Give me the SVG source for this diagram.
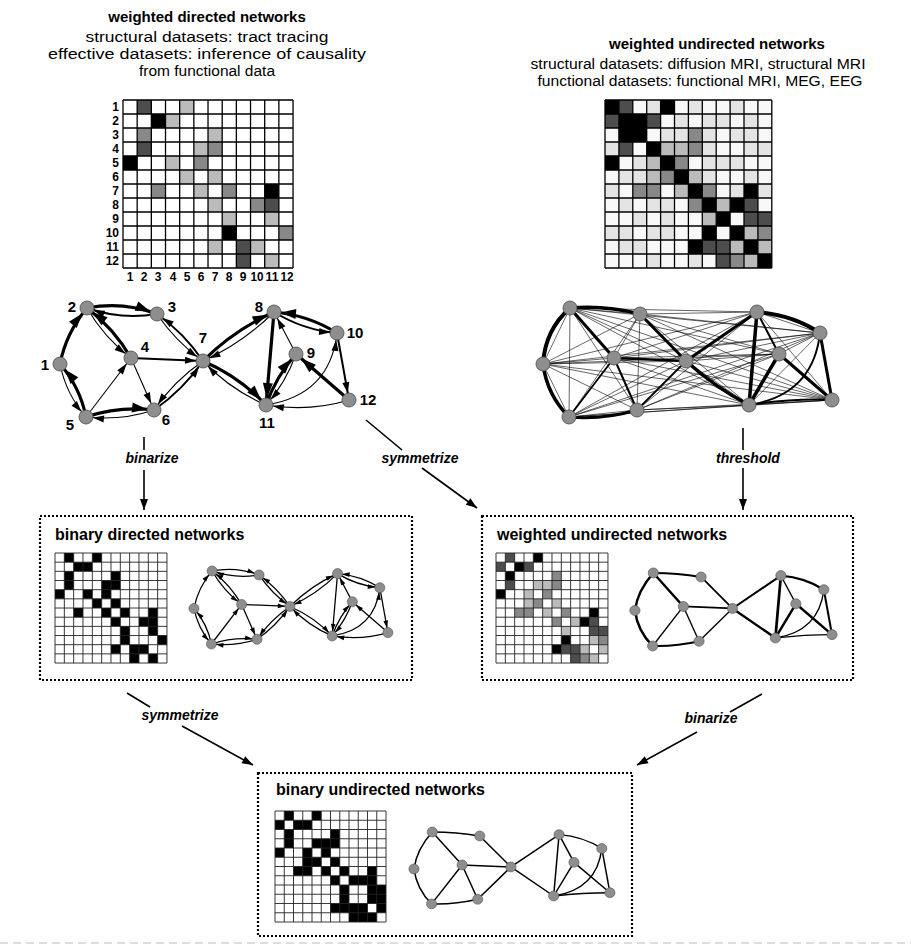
<svg xmlns="http://www.w3.org/2000/svg" xmlns:xlink="http://www.w3.org/1999/xlink" width="911" height="945" viewBox="0 0 911 945">
<style>
text{font-family:"Liberation Sans",Arial,sans-serif;fill:#000}
.ttl{font-size:15px;font-weight:bold}
.sub{font-size:14px}
.bt{font-size:16px;font-weight:bold}
.lab{font-size:14px;font-weight:bold;font-style:italic}
.num{font-size:12px;font-weight:bold}
.nl{font-size:15px;font-weight:bold}
.k0{fill:#000}.k1{fill:#4d4d4d}.k2{fill:#888}.k3{fill:#bbb}.k4{fill:#e4e4e4}
.grid{fill:none;stroke:#000;stroke-width:1.3}
.gridS{fill:none;stroke:#222;stroke-width:0.9}
.e{fill:none;stroke:#000}
.node{fill:#8e8e8e;stroke:#555;stroke-width:0.9}
.box{fill:none;stroke:#000;stroke-width:2.2;stroke-dasharray:2,2}
.arr{stroke:#000;stroke-width:1.6;fill:none}
</style>
<defs>
<marker id="aB" markerUnits="userSpaceOnUse" markerWidth="15" markerHeight="10" refX="22" refY="5" orient="auto" overflow="visible"><path d="M0,0 L15,5 L0,10 z"/></marker>
<marker id="aS" markerUnits="userSpaceOnUse" markerWidth="11" markerHeight="7" refX="18" refY="3.5" orient="auto" overflow="visible"><path d="M0,0 L11,3.5 L0,7 z"/></marker>
<marker id="ah" markerUnits="userSpaceOnUse" markerWidth="11" markerHeight="8" refX="11" refY="4" orient="auto" overflow="visible"><path d="M0,0 L11,4 L0,8 z"/></marker>
<path id="gridp" vector-effect="non-scaling-stroke" d="M0,0V12M1,0V12M2,0V12M3,0V12M4,0V12M5,0V12M6,0V12M7,0V12M8,0V12M9,0V12M10,0V12M11,0V12M12,0V12M0,0H12M0,1H12M0,2H12M0,3H12M0,4H12M0,5H12M0,6H12M0,7H12M0,8H12M0,9H12M0,10H12M0,11H12M0,12H12"/>
<g id="nodes">
<circle cx="60" cy="364" r="7"/><circle cx="87" cy="308" r="7"/><circle cx="157" cy="314" r="7"/><circle cx="131" cy="358" r="7"/><circle cx="86" cy="417" r="7"/><circle cx="154" cy="410" r="7"/><circle cx="203" cy="361" r="7"/><circle cx="274" cy="312" r="7"/><circle cx="296" cy="354" r="7"/><circle cx="337" cy="333" r="7"/><circle cx="266" cy="405" r="7"/><circle cx="349" cy="400" r="7"/>
</g>
<g id="nodesL">
<circle cx="60" cy="364" r="7.5"/><circle cx="87" cy="308" r="7.5"/><circle cx="157" cy="314" r="7.5"/><circle cx="131" cy="358" r="7.5"/><circle cx="86" cy="417" r="7.5"/><circle cx="154" cy="410" r="7.5"/><circle cx="203" cy="361" r="7.5"/><circle cx="274" cy="312" r="7.5"/><circle cx="296" cy="354" r="7.5"/><circle cx="337" cy="333" r="7.5"/><circle cx="266" cy="405" r="7.5"/><circle cx="349" cy="400" r="7.5"/>
</g>
</defs>
<rect width="911" height="945" fill="#fff"/>

<!-- headings -->
<g id="head-left">
<text class="ttl" x="207" y="22" text-anchor="middle">weighted directed networks</text>
<text class="sub" x="207" y="42" text-anchor="middle" textLength="243" lengthAdjust="spacingAndGlyphs">structural datasets: tract tracing</text>
<text class="sub" x="207" y="59" text-anchor="middle" textLength="318" lengthAdjust="spacingAndGlyphs">effective datasets: inference of causality</text>
<text class="sub" x="207" y="76" text-anchor="middle" textLength="136" lengthAdjust="spacingAndGlyphs">from functional data</text>
</g>
<g id="head-right">
<text class="ttl" x="717" y="49" text-anchor="middle">weighted undirected networks</text>
<text class="sub" x="698" y="69" text-anchor="middle" textLength="335" lengthAdjust="spacingAndGlyphs">structural datasets: diffusion MRI, structural MRI</text>
<text class="sub" x="700" y="86" text-anchor="middle" textLength="325" lengthAdjust="spacingAndGlyphs">functional datasets: functional MRI, MEG, EEG</text>
</g>

<!-- top-left matrix -->
<g id="matrix-wd">
<g transform="translate(123,100) scale(14.17,14)">
<rect width="12" height="12" fill="#fff"/>
<path class="k0" d="M2,1h1v1h-1zM0,4h1v1h-1zM10,6h1v1h-1zM7,9h1v1h-1z"/>
<path class="k1" d="M1,0h1v1h-1zM1,3h1v1h-1zM10,7h1v1h-1zM8,10h1v1h-1zM8,11h1v1h-1z"/>
<path class="k2" d="M1,2h1v1h-1zM6,3h1v1h-1zM5,4h1v1h-1zM2,6h1v1h-1zM7,6h1v1h-1zM9,7h1v1h-1zM11,9h1v1h-1z"/>
<path class="k3" d="M4,0h1v1h-1zM3,1h1v1h-1zM6,2h1v1h-1zM5,3h1v1h-1zM3,4h1v1h-1zM4,5h1v1h-1zM6,5h1v1h-1zM5,6h1v1h-1zM6,7h1v1h-1zM7,8h1v1h-1zM10,8h1v1h-1zM6,10h1v1h-1zM9,10h1v1h-1zM10,11h1v1h-1z"/>
<use xlink:href="#gridp" class="grid"/>
</g>
<g class="num" text-anchor="end">
<text x="119" y="111">1</text><text x="119" y="125">2</text><text x="119" y="139">3</text><text x="119" y="153">4</text><text x="119" y="167">5</text><text x="119" y="181">6</text><text x="119" y="195">7</text><text x="119" y="209">8</text><text x="119" y="223">9</text><text x="119" y="237">10</text><text x="119" y="251">11</text><text x="119" y="265">12</text>
</g>
<g class="num" text-anchor="middle">
<text x="130" y="281">1</text><text x="144" y="281">2</text><text x="158" y="281">3</text><text x="173" y="281">4</text><text x="187" y="281">5</text><text x="201" y="281">6</text><text x="215" y="281">7</text><text x="229" y="281">8</text><text x="243" y="281">9</text><text x="257" y="281" textLength="13" lengthAdjust="spacingAndGlyphs">10</text><text x="272" y="281" textLength="13" lengthAdjust="spacingAndGlyphs">11</text><text x="287" y="281" textLength="13" lengthAdjust="spacingAndGlyphs">12</text>
</g>
</g>

<!-- top-right matrix -->
<g id="matrix-wu" transform="translate(605,100) scale(13.9,14)">
<rect width="12" height="12" fill="#f8f8f8"/>
<path class="k0" d="M0,0h1v1h-1zM4,0h1v1h-1zM1,1h1v1h-1zM2,1h1v1h-1zM1,2h1v1h-1zM2,2h1v1h-1zM3,3h1v1h-1zM0,4h1v1h-1zM4,4h1v1h-1zM5,5h1v1h-1zM6,6h1v1h-1zM10,6h1v1h-1zM7,7h1v1h-1zM9,7h1v1h-1zM8,8h1v1h-1zM7,9h1v1h-1zM9,9h1v1h-1zM6,10h1v1h-1zM10,10h1v1h-1zM11,11h1v1h-1z"/>
<path class="k1" d="M1,0h1v1h-1zM0,1h1v1h-1zM3,1h1v1h-1zM1,3h1v1h-1zM10,7h1v1h-1zM10,8h1v1h-1zM11,8h1v1h-1zM7,10h1v1h-1zM8,10h1v1h-1zM8,11h1v1h-1z"/>
<path class="k2" d="M6,2h1v1h-1zM6,3h1v1h-1zM5,4h1v1h-1zM4,5h1v1h-1zM2,6h1v1h-1zM3,6h1v1h-1zM7,6h1v1h-1zM6,7h1v1h-1zM11,9h1v1h-1zM9,11h1v1h-1z"/>
<path class="k3" d="M4,3h1v1h-1zM5,3h1v1h-1zM3,4h1v1h-1zM3,5h1v1h-1zM6,5h1v1h-1zM5,6h1v1h-1zM8,7h1v1h-1zM7,8h1v1h-1zM10,9h1v1h-1zM9,10h1v1h-1zM11,10h1v1h-1zM10,11h1v1h-1z"/>
<path class="k4" d="M3,0h1v1h-1zM6,0h1v1h-1zM9,0h1v1h-1zM5,1h1v1h-1zM7,1h1v1h-1zM8,1h1v1h-1zM10,1h1v1h-1zM4,2h1v1h-1zM5,2h1v1h-1zM7,2h1v1h-1zM9,2h1v1h-1zM10,2h1v1h-1zM0,3h1v1h-1zM7,3h1v1h-1zM10,3h1v1h-1zM11,3h1v1h-1zM2,4h1v1h-1zM7,4h1v1h-1zM8,4h1v1h-1zM9,4h1v1h-1zM1,5h1v1h-1zM2,5h1v1h-1zM7,5h1v1h-1zM10,5h1v1h-1zM0,6h1v1h-1zM9,6h1v1h-1zM11,6h1v1h-1zM1,7h1v1h-1zM3,7h1v1h-1zM4,7h1v1h-1zM2,8h1v1h-1zM4,8h1v1h-1zM0,9h1v1h-1zM1,9h1v1h-1zM3,9h1v1h-1zM4,9h1v1h-1zM1,10h1v1h-1zM2,10h1v1h-1zM3,11h1v1h-1zM6,11h1v1h-1z"/>
<use xlink:href="#gridp" class="grid"/>
</g>

<!-- top-left directed network -->
<g id="net-wd">
<g class="e" stroke-width="3.2" marker-end="url(#aB)">
<path d="M60,364 Q66,333 87,308"/><path d="M86,417 Q80,387 60,364"/><path d="M87,308 Q123,301 157,314"/><path d="M131,358 Q114,328.5 87,308"/><path d="M86,417 Q119,406 154,410"/><path d="M203,361 Q234,330 274,312"/><path d="M203,361 Q239,376.5 266,405"/><path d="M274,312 L266,405"/><path d="M337,333 Q308,315 274,312"/><path d="M266,405 Q276,376.5 296,354"/><path d="M349,400 L296,354"/>
</g>
<g class="e" stroke-width="2" marker-end="url(#aS)">
<path d="M157,314 Q121,320 87,308"/><path d="M131,358 L203,361"/><path d="M203,361 Q184,333 157,314"/><path d="M154,410 Q183,390 203,361"/><path d="M274,312 Q303,330 337,333"/><path d="M337,333 L349,400"/>
</g>
<g class="e" stroke-width="1.1" marker-end="url(#aS)">
<path d="M60,364 Q66,394 86,417"/><path d="M87,308 Q104,337.5 131,358"/><path d="M86,417 L131,358"/><path d="M131,358 L154,410"/><path d="M154,410 Q121,421 86,417"/><path d="M157,314 Q176,342 203,361"/><path d="M203,361 Q174,381 154,410"/><path d="M274,312 Q243,343 203,361"/><path d="M266,405 Q230,389.5 203,361"/><path d="M296,354 L274,312"/><path d="M296,354 Q286,382.5 266,405"/><path d="M349,400 Q310,412 266,405"/><path d="M266,405 Q330,395 337,333"/>
</g>
<use xlink:href="#nodes" class="node"/>
<g class="nl" text-anchor="middle">
<text x="45" y="370">1</text><text x="72" y="312">2</text><text x="172" y="312">3</text><text x="145" y="352">4</text><text x="70" y="430">5</text><text x="166" y="425">6</text><text x="203" y="343">7</text><text x="259" y="312">8</text><text x="311" y="358">9</text><text x="355" y="338">10</text><text x="267" y="428">11</text><text x="368" y="405">12</text>
</g>
</g>

<!-- top-right undirected network -->
<g id="net-wu" transform="translate(483,0)">
<path class="e" stroke-width="0.6" d="M60,364L87,308M60,364L157,314M60,364L131,358M60,364L86,417M60,364L154,410M60,364L203,361M60,364L274,312M60,364L296,354M60,364L337,333M60,364L266,405M60,364L349,400M87,308L157,314M87,308L131,358M87,308L86,417M87,308L154,410M87,308L203,361M87,308L274,312M87,308L296,354M87,308L337,333M87,308L266,405M87,308L349,400M157,314L131,358M157,314L86,417M157,314L154,410M157,314L203,361M157,314L274,312M157,314L296,354M157,314L337,333M157,314L266,405M157,314L349,400M131,358L86,417M131,358L154,410M131,358L203,361M131,358L274,312M131,358L296,354M131,358L337,333M131,358L266,405M131,358L349,400M86,417L154,410M86,417L203,361M86,417L274,312M86,417L296,354M86,417L337,333M86,417L266,405M86,417L349,400M154,410L203,361M154,410L274,312M154,410L296,354M154,410L337,333M154,410L266,405M154,410L349,400M203,361L274,312M203,361L296,354M203,361L337,333M203,361L266,405M203,361L349,400M274,312L296,354M274,312L337,333M274,312L266,405M274,312L349,400M296,354L337,333M296,354L266,405M296,354L349,400M337,333L266,405M337,333L349,400M266,405L349,400"/>
<g class="e">
<path stroke-width="4" d="M60,364 Q62,330 87,308"/><path stroke-width="3.5" d="M60,364 Q64,395 86,417"/><path stroke-width="3.5" d="M87,308 Q122,305 157,314"/><path stroke-width="3" d="M86,417 Q120,420 154,410"/><path stroke-width="3" d="M87,308 L131,358"/><path stroke-width="3" d="M157,314 L203,361"/><path stroke-width="2.5" d="M131,358 L203,361"/><path stroke-width="1.8" d="M131,358 L86,417"/><path stroke-width="2" d="M131,358 L154,410"/><path stroke-width="1.8" d="M154,410 L203,361"/><path stroke-width="3" d="M203,361 L274,312"/><path stroke-width="3.5" d="M203,361 Q233,388 266,405"/><path stroke-width="3.5" d="M274,312 L266,405"/><path stroke-width="4" d="M274,312 Q310,315 337,333"/><path stroke-width="3" d="M337,333 L349,400"/><path stroke-width="3.5" d="M296,354 L266,405"/><path stroke-width="3" d="M296,354 L349,400"/><path stroke-width="2" d="M266,405 Q310,398 349,400"/><path stroke-width="2" d="M266,405 Q330,395 337,333"/><path stroke-width="2" d="M274,312 L296,354"/>
</g>
<use xlink:href="#nodes" class="node"/>
</g>

<!-- box: binary directed -->
<g id="box-bd">
<rect class="box" x="40" y="516" width="372" height="164"/>
<text class="bt" x="55" y="540">binary directed networks</text>
<g transform="translate(55,553) scale(9.33,9.17)">
<rect width="12" height="12" fill="#fff"/>
<path class="k0" d="M2,1h1v1h-1zM0,4h1v1h-1zM10,6h1v1h-1zM7,9h1v1h-1zM1,0h1v1h-1zM1,3h1v1h-1zM10,7h1v1h-1zM8,10h1v1h-1zM8,11h1v1h-1zM1,2h1v1h-1zM6,3h1v1h-1zM5,4h1v1h-1zM2,6h1v1h-1zM7,6h1v1h-1zM9,7h1v1h-1zM11,9h1v1h-1zM4,0h1v1h-1zM3,1h1v1h-1zM6,2h1v1h-1zM5,3h1v1h-1zM3,4h1v1h-1zM4,5h1v1h-1zM6,5h1v1h-1zM5,6h1v1h-1zM6,7h1v1h-1zM7,8h1v1h-1zM10,8h1v1h-1zM6,10h1v1h-1zM9,10h1v1h-1zM10,11h1v1h-1z"/>
<use xlink:href="#gridp" class="gridS"/>
</g>
<g transform="translate(153.7,364.6) scale(0.671,0.67)">
<g class="e" stroke-width="1.9" marker-end="url(#aS)">
<path d="M60,364 Q66,333 87,308"/><path d="M86,417 Q80,387 60,364"/><path d="M87,308 Q123,301 157,314"/><path d="M131,358 Q114,328.5 87,308"/><path d="M86,417 Q119,406 154,410"/><path d="M203,361 Q234,330 274,312"/><path d="M203,361 Q239,376.5 266,405"/><path d="M274,312 L266,405"/><path d="M337,333 Q308,315 274,312"/><path d="M266,405 Q276,376.5 296,354"/><path d="M349,400 L296,354"/>
<path d="M157,314 Q121,320 87,308"/><path d="M131,358 L203,361"/><path d="M203,361 Q184,333 157,314"/><path d="M154,410 Q183,390 203,361"/><path d="M274,312 Q303,330 337,333"/><path d="M337,333 L349,400"/>
<path d="M60,364 Q66,394 86,417"/><path d="M87,308 Q104,337.5 131,358"/><path d="M86,417 L131,358"/><path d="M131,358 L154,410"/><path d="M154,410 Q121,421 86,417"/><path d="M157,314 Q176,342 203,361"/><path d="M203,361 Q174,381 154,410"/><path d="M274,312 Q243,343 203,361"/><path d="M266,405 Q230,389.5 203,361"/><path d="M296,354 L274,312"/><path d="M296,354 Q286,382.5 266,405"/><path d="M349,400 Q310,412 266,405"/><path d="M266,405 Q330,395 337,333"/>
</g>
<use xlink:href="#nodesL" class="node"/>
</g>
</g>

<!-- box: weighted undirected -->
<g id="box-wu">
<rect class="box" x="482" y="516" width="371" height="164"/>
<text class="bt" x="497" y="540">weighted undirected networks</text>
<g transform="translate(496,553) scale(9.33,9.17)">
<rect width="12" height="12" fill="#fff"/>
<path class="k0" d="M4,0h1v1h-1zM0,4h1v1h-1zM2,1h1v1h-1zM1,2h1v1h-1zM10,6h1v1h-1zM6,10h1v1h-1zM9,7h1v1h-1zM7,9h1v1h-1z"/>
<path class="k1" d="M1,0h1v1h-1zM0,1h1v1h-1zM3,1h1v1h-1zM1,3h1v1h-1zM10,7h1v1h-1zM7,10h1v1h-1zM10,8h1v1h-1zM8,10h1v1h-1zM11,8h1v1h-1zM8,11h1v1h-1z"/>
<path class="k2" d="M6,2h1v1h-1zM2,6h1v1h-1zM6,3h1v1h-1zM3,6h1v1h-1zM5,4h1v1h-1zM4,5h1v1h-1zM7,6h1v1h-1zM6,7h1v1h-1zM11,9h1v1h-1zM9,11h1v1h-1z"/>
<path class="k3" d="M4,3h1v1h-1zM3,4h1v1h-1zM5,3h1v1h-1zM3,5h1v1h-1zM6,5h1v1h-1zM5,6h1v1h-1zM8,7h1v1h-1zM7,8h1v1h-1zM10,9h1v1h-1zM9,10h1v1h-1zM11,10h1v1h-1zM10,11h1v1h-1z"/>
<use xlink:href="#gridp" class="gridS"/>
</g>
<g transform="translate(594,366.6) scale(0.682,0.67)">
<g class="e">
<path stroke-width="3.6" d="M60,364 Q64,334 87,308"/><path stroke-width="3.6" d="M60,364 Q64,395 86,417"/><path stroke-width="3" d="M87,308 Q122,308 157,314"/><path stroke-width="3.6" d="M87,308 L131,358"/><path stroke-width="2.6" d="M157,314 L203,361"/><path stroke-width="2" d="M131,358 L86,417"/><path stroke-width="2" d="M131,358 L154,410"/><path stroke-width="2.6" d="M131,358 L203,361"/><path stroke-width="3" d="M86,417 Q120,418 154,410"/><path stroke-width="2" d="M154,410 L203,361"/><path stroke-width="3" d="M203,361 L274,312"/><path stroke-width="3.6" d="M203,361 L266,405"/><path stroke-width="2" d="M274,312 L296,354"/><path stroke-width="3.6" d="M274,312 Q310,315 337,333"/><path stroke-width="4" d="M274,312 L266,405"/><path stroke-width="3.6" d="M296,354 L266,405"/><path stroke-width="3.6" d="M296,354 L349,400"/><path stroke-width="2" d="M266,405 Q330,395 337,333"/><path stroke-width="3" d="M337,333 L349,400"/><path stroke-width="2" d="M266,405 Q310,400 349,400"/>
</g>
<use xlink:href="#nodesL" class="node"/>
</g>
</g>

<!-- box: binary undirected -->
<g id="box-bu">
<rect class="box" x="258" y="773" width="374" height="163"/>
<text class="bt" x="276" y="795">binary undirected networks</text>
<g transform="translate(275,811) scale(9.25,9.25)">
<rect width="12" height="12" fill="#fff"/>
<path class="k0" d="M4,0h1v1h-1zM0,4h1v1h-1zM2,1h1v1h-1zM1,2h1v1h-1zM10,6h1v1h-1zM6,10h1v1h-1zM9,7h1v1h-1zM7,9h1v1h-1zM1,0h1v1h-1zM0,1h1v1h-1zM3,1h1v1h-1zM1,3h1v1h-1zM10,7h1v1h-1zM7,10h1v1h-1zM10,8h1v1h-1zM8,10h1v1h-1zM11,8h1v1h-1zM8,11h1v1h-1zM6,2h1v1h-1zM2,6h1v1h-1zM6,3h1v1h-1zM3,6h1v1h-1zM5,4h1v1h-1zM4,5h1v1h-1zM7,6h1v1h-1zM6,7h1v1h-1zM11,9h1v1h-1zM9,11h1v1h-1zM4,3h1v1h-1zM3,4h1v1h-1zM5,3h1v1h-1zM3,5h1v1h-1zM6,5h1v1h-1zM5,6h1v1h-1zM8,7h1v1h-1zM7,8h1v1h-1zM10,9h1v1h-1zM9,10h1v1h-1zM11,10h1v1h-1zM10,11h1v1h-1z"/>
<use xlink:href="#gridp" class="gridS"/>
</g>
<g transform="translate(373.3,628.7) scale(0.678,0.66)">
<g class="e" stroke-width="2.2">
<path d="M60,364 Q64,334 87,308"/><path d="M60,364 Q64,395 86,417"/><path d="M87,308 Q122,308 157,314"/><path d="M87,308 L131,358"/><path d="M157,314 L203,361"/><path d="M131,358 L86,417"/><path d="M131,358 L154,410"/><path d="M131,358 L203,361"/><path d="M86,417 Q120,418 154,410"/><path d="M154,410 L203,361"/><path d="M203,361 L274,312"/><path d="M203,361 L266,405"/><path d="M274,312 L296,354"/><path d="M274,312 Q310,315 337,333"/><path d="M274,312 L266,405"/><path d="M296,354 L266,405"/><path d="M296,354 L349,400"/><path d="M266,405 Q330,395 337,333"/><path d="M337,333 L349,400"/><path d="M266,405 Q310,400 349,400"/>
</g>
<use xlink:href="#nodesL" class="node"/>
</g>
</g>

<!-- connectors -->
<g id="connectors">
<line class="arr" x1="144" y1="437" x2="144" y2="450"/>
<line class="arr" x1="144" y1="470" x2="144" y2="510" marker-end="url(#ah)"/>
<text class="lab" x="152" y="463" text-anchor="middle">binarize</text>
<line class="arr" x1="366" y1="420" x2="402" y2="450"/>
<line class="arr" x1="422" y1="468" x2="477" y2="508" marker-end="url(#ah)"/>
<text class="lab" x="420" y="463" text-anchor="middle">symmetrize</text>
<line class="arr" x1="743" y1="428" x2="743" y2="450"/>
<line class="arr" x1="743" y1="468" x2="743" y2="510" marker-end="url(#ah)"/>
<text class="lab" x="748" y="463" text-anchor="middle">threshold</text>
<line class="arr" x1="127" y1="693" x2="150" y2="707"/>
<line class="arr" x1="182" y1="726" x2="253" y2="765" marker-end="url(#ah)"/>
<text class="lab" x="180" y="720" text-anchor="middle">symmetrize</text>
<line class="arr" x1="762" y1="694" x2="730" y2="712"/>
<line class="arr" x1="697" y1="732" x2="637" y2="765" marker-end="url(#ah)"/>
<text class="lab" x="711" y="723" text-anchor="middle">binarize</text>
</g>
<line x1="0" y1="943" x2="911" y2="943" stroke="#bbb" stroke-width="1" stroke-dasharray="8,5"/>
</svg>
